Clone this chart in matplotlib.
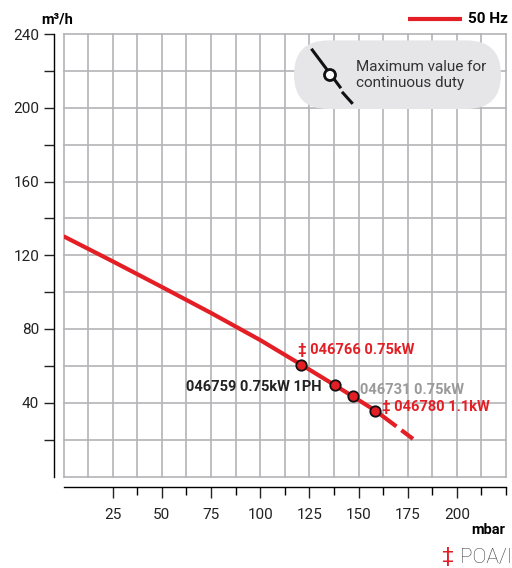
import numpy as np
import matplotlib
matplotlib.use('Agg')
import matplotlib.pyplot as plt
from matplotlib.patches import FancyBboxPatch, Circle
from matplotlib.lines import Line2D

plt.rcParams['font.family'] = ['Roboto', 'DejaVu Sans']

# curve (mbar -> m3/h)
pressure = [0, 25, 50, 75, 100, 120.8, 138, 147, 158.6]
flow = [130.3, 116.7, 102.8, 88.7, 74.0, 60.7, 49.5, 43.5, 35.7]
# beyond continuous duty (dashed)
pressure_ext = [158.6, 177.7]
flow_ext = [35.7, 20.4]

# models on the curve
model_labels = ['‡ 046766 0.75kW', '046759 0.75kW 1PH', '046731 0.75kW', '‡ 046780 1.1kW']
model_p = [120.8, 138, 147, 158.6]
model_q = [60.7, 49.5, 43.5, 35.7]

x_labels = [25, 50, 75, 100, 125, 150, 175, 200]
y_labels = [40, 80, 120, 160, 200, 240]

RED = '#e31e25'
GRID = '#b4b4b8'

fig = plt.figure(figsize=(5.12, 5.68), dpi=100)
ax = fig.add_axes([63.5 / 512, 1 - 476.5 / 568, (506 - 63.5) / 512, (476.5 - 34) / 568])
ax.set_xlim(0, 225)
ax.set_ylim(0, 240)

for gx in np.arange(0, 225.1, 12.5):
    ax.axvline(gx, color=GRID, lw=1.2, zorder=0, clip_on=False)
for gy in np.arange(0, 240.1, 20):
    ax.axhline(gy, color=GRID, lw=1.2, zorder=0, clip_on=False)

ax.spines['top'].set_visible(False)
ax.spines['right'].set_visible(False)
ax.spines['left'].set_position(('outward', 7))
ax.spines['bottom'].set_position(('outward', 7.5))
ax.spines['left'].set_linewidth(1)
ax.spines['bottom'].set_linewidth(1)

ax.set_xticks(x_labels)
ax.set_xticklabels([str(v) for v in x_labels])
ax.set_xticks(list(np.arange(37.5, 225.1, 25)) + [225], minor=True)
ax.set_yticks(y_labels)
ax.set_yticklabels([str(v) for v in y_labels])
ax.set_yticks(np.arange(20, 221, 40), minor=True)
ax.tick_params(axis='x', which='major', length=8, width=1, pad=7, labelsize=11, colors='#222222')
ax.tick_params(axis='x', which='minor', length=6, width=1)
ax.tick_params(axis='y', which='both', length=7.5, width=1, pad=3, labelsize=11, colors='#222222')

ax.plot(pressure, flow, color=RED, lw=3, solid_capstyle='butt', zorder=3)
ax.plot(pressure_ext, flow_ext, color=RED, lw=3, ls=(0, (6.3, 1.5)), zorder=3)
ax.plot(model_p, model_q, 'o', ms=7.5, mfc=RED, mec='#111111', mew=1.3, zorder=4)

offsets = [(-2.5, 10.5), (-9.5, -1.5), (5.5, 4.5), (5, 3)]
aligns = ['left', 'right', 'left', 'left']
colors = [RED, '#222222', '#9a9a9a', RED]
for lab, p, q, off, ha, c in zip(model_labels, model_p, model_q, offsets, aligns, colors):
    ax.annotate(lab, (p, q), xytext=off, textcoords='offset points', ha=ha, va='center',
                fontsize=10.5, fontweight='bold', color=c, zorder=5)

# axis titles
fig.text(57 / 512, 1 - 19 / 568, 'm³/h', ha='center', va='center', fontsize=10.5, fontweight='bold')
fig.text(505 / 512, 1 - 530 / 568, 'mbar', ha='right', va='center', fontsize=10.5, fontweight='bold')

# legend
fig.add_artist(Line2D([408 / 512, 462 / 512], [1 - 19 / 568] * 2, color=RED, lw=3,
                      solid_capstyle='butt'))
fig.text(468 / 512, 1 - 19 / 568, '50 Hz', ha='left', va='center', fontsize=11, fontweight='bold')

# note box
inch = fig.dpi_scale_trans
box = FancyBboxPatch((2.94, 4.59), 2.07, 0.686, boxstyle='round,pad=0,rounding_size=0.343',
                     transform=inch, fc='#e6e6e8', ec='none', zorder=6)
fig.add_artist(box)
fig.add_artist(Line2D([3.123, 3.40], [5.18, 4.81], color='#111111', lw=2.2, transform=inch, zorder=7))
fig.add_artist(Line2D([3.43, 3.517], [4.75, 4.653], color='#111111', lw=2.2, transform=inch, zorder=7))
fig.add_artist(Circle((3.30, 4.93), 0.055, transform=inch, fc='white', ec='#111111', lw=2, zorder=8))
fig.text(3.565, 4.93, 'Maximum value for\ncontinuous duty', transform=inch, ha='left', va='center',
         fontsize=11, color='#333333', linespacing=1.2, zorder=9)

# footer
fig.text(4.53, 0.11, '‡', transform=inch, ha='right', va='center', fontsize=15, color=RED)
fig.text(4.60, 0.11, 'POA/I', transform=inch, ha='left', va='center', fontsize=15,
         fontweight='light', color='#444444')

fig.savefig('out.png', dpi=100)
